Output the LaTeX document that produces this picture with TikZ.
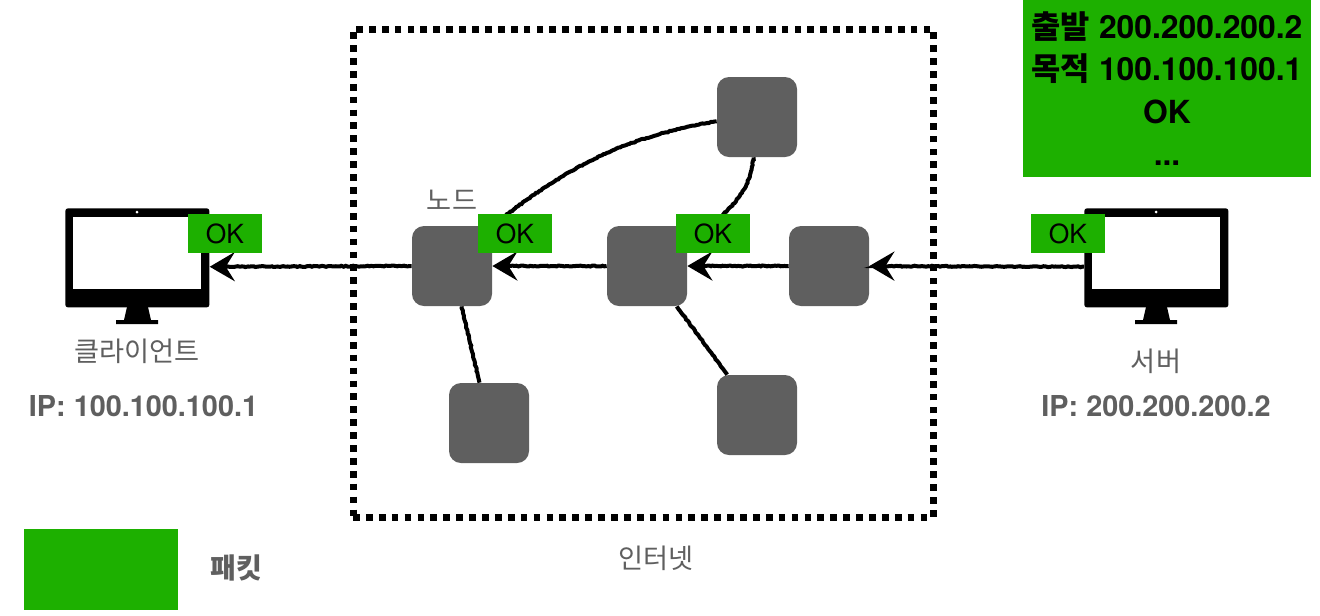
\documentclass[tikz,border=0pt]{standalone}
\usepackage{fontspec}
\setmainfont{TeX Gyre Heros}
\newfontfamily\cjk{Noto Sans CJK KR}
\usepackage{xcolor}
\usetikzlibrary{positioning,arrows.meta,decorations.pathmorphing}
\definecolor{packetgreen}{HTML}{1DB000}
\definecolor{nodegray}{HTML}{5F5F5F}

\begin{document}
\begin{tikzpicture}[x=0.2mm, y=-0.2mm, >=Stealth,
    router/.style={rectangle, fill=nodegray, rounded corners=2.4mm, minimum size=16mm, inner sep=0pt},
    okbox/.style={rectangle, fill=packetgreen, minimum width=14.8mm, minimum height=7.8mm, inner sep=0pt, font=\fontsize{15}{17}\selectfont},
    caption/.style={text=nodegray, inner sep=0pt, font=\fontsize{15.5}{18}\selectfont},
    iplabel/.style={text=nodegray, inner sep=0pt, font=\fontsize{16.4}{19}\selectfont\bfseries},
    link/.style={draw, line width=0.8mm, decorate, decoration={random steps, segment length=0.4mm, amplitude=0.1mm, post=lineto, post length=1.5mm}},
    hop/.style={link, -{Stealth[length=5mm, width=5.8mm, inset=1.8mm]}},
    monitor/.pic={
      \node[rectangle, fill=black, rounded corners=0.5mm, minimum width=28.8mm, minimum height=19.8mm, inner sep=0pt, anchor=north west] (-body) at (0,0) {};
      \fill[white] (8,9) rectangle (136,81);
      \fill[white] (72,4) circle (0.3mm);
      \fill[black] (62,99) -- (59,112) -- (51,112) -- (51,116) -- (93,116) -- (93,112) -- (86,112) -- (83,99) -- cycle;
    }]

\useasboundingbox (0,0) rectangle (1320,615);

% internet frame
\node[rectangle, draw, line width=1.4mm, dash pattern=on 1.35mm off 1.23mm, minimum width=116mm, minimum height=97.6mm, inner sep=0pt] (internet) at (643,273) {};

% hosts
\pic (client) at (65,208) {monitor};
\pic (server) at (1084,208) {monitor};

% nodes
\node[router] (R1) at (452,266) {};
\node[router] (R2) at (647,266) {};
\node[router] (R3) at (829,266) {};
\node[router] (R4) at (757,117) {};
\node[router] (R5) at (489,423) {};
\node[router] (R6) at (757,415) {};

\path
  (server-body.187) edge[hop] (R3.east)
  (R3.west) edge[hop] (R2.east)
  (R2.west) edge[hop] (R1.east)
  (R1.west) edge[hop] (client-body.-7)
  (R1) edge[link] (R5)
  (R2) edge[link] (R6)
  (R4.186) edge[link, out=190, in=38] (R1.north east)
  (R4.265) edge[link, out=265, in=45] (R2.25);

% packets
\node[okbox] (ok1) at (225,233.5) {OK};
\node[okbox] (ok2) at (515,233.5) {OK};
\node[okbox] (ok3) at (713,233.5) {OK};
\node[okbox] (ok4) at (1068,233.5) {OK};
\node[rectangle, fill=packetgreen, minimum width=57.6mm, minimum height=35.4mm, inner sep=0pt, align=center, font=\fontsize{18.1}{24}\selectfont\bfseries] (header) at (1167,88.5)
  {{\cjk 출발} 200.200.200.2\\{\cjk 목적} 100.100.100.1\\OK\\...};
\node[rectangle, fill=packetgreen, minimum width=30.8mm, minimum height=16.2mm, inner sep=0pt] (legend) at (101,569.5) {};

% labels
\node[caption] (clientname) at (137,351) {\cjk 클라이언트};
\node[iplabel] (clientip) at (143.5,406) {IP: 100.100.100.1};
\node[caption] (servername) at (1156,361) {\cjk 서버};
\node[iplabel] (serverip) at (1156,406) {IP: 200.200.200.2};
\node[caption] (nodename) at (452,200) {\cjk 노드};
\node[caption] (internetname) at (656,558) {\cjk 인터넷};
\node[caption, right=6.4mm of legend, yshift=0.4mm, font=\fontsize{16}{18}\selectfont\cjk\bfseries] (legendname) {패킷};
\end{tikzpicture}
\end{document}
